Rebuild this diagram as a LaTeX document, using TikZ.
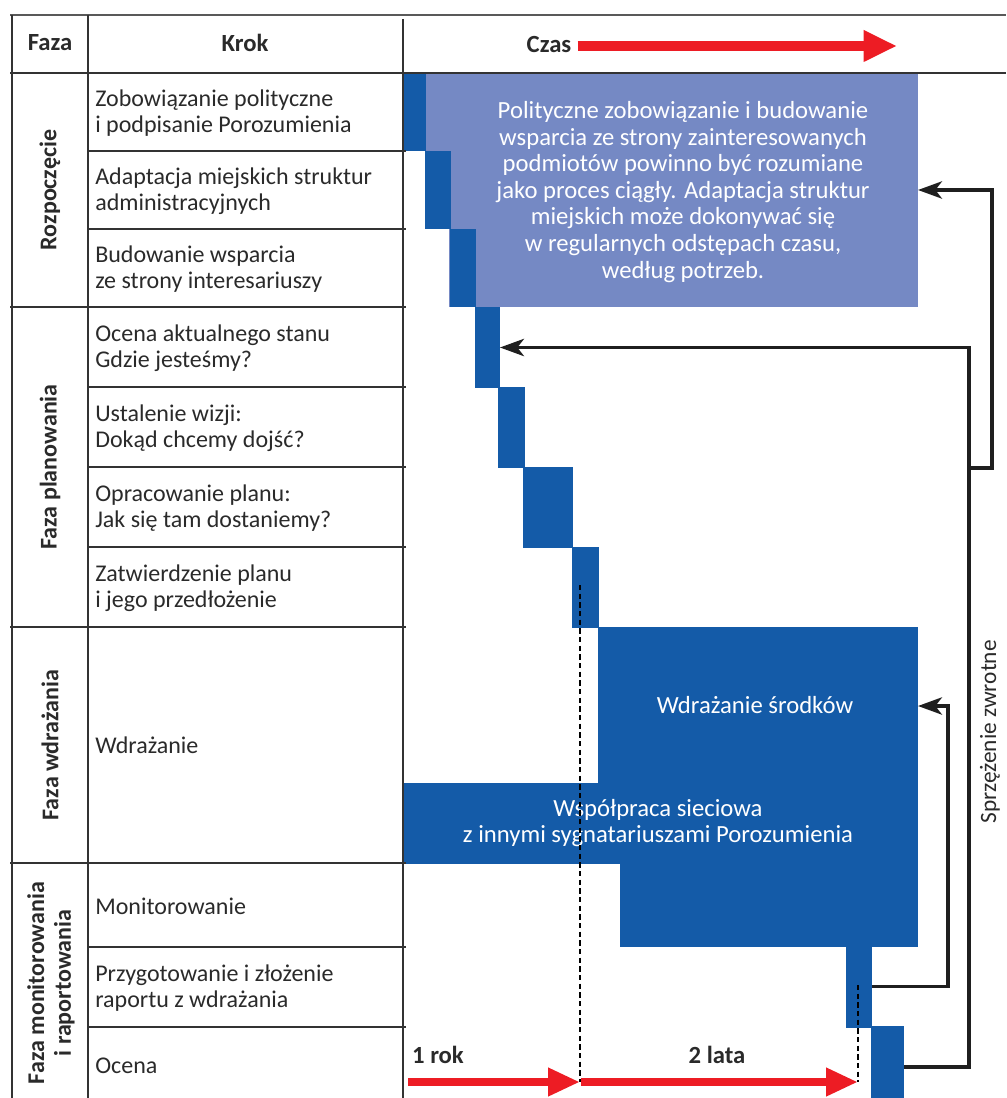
\documentclass[tikz,border=0pt]{standalone}
\usepackage{fontspec}
\setmainfont{Carlito}
\usetikzlibrary{arrows.meta,fit}
\definecolor{dblue}{HTML}{145BA8}
\definecolor{lblue}{HTML}{7589C4}
\definecolor{redarr}{HTML}{ED1C24}
\definecolor{txt}{HTML}{2A2A2A}
\definecolor{tline}{HTML}{333333}
\begin{document}
\begin{tikzpicture}[x=0.75pt,y=-0.75pt,
  grid/.style={draw=tline,line width=1.5pt},
  topline/.style={draw=black!65,line width=2pt},
  bar/.style={fill=dblue,draw=none,inner sep=0pt,outer sep=0pt},
  lbar/.style={fill=lblue,draw=none,inner sep=0pt,outer sep=0pt},
  steptxt/.style={anchor=west,align=left,text=txt,inner sep=0pt,font=\fontsize{18}{19.5}\selectfont},
  headtxt/.style={text=txt,inner sep=0pt,font=\bfseries\fontsize{18.5}{20}\selectfont},
  phasetxt/.style={rotate=90,align=center,text=txt,inner sep=0pt,font=\bfseries\fontsize{18}{20}\selectfont},
  wtxt/.style={text=white,align=center,inner sep=0pt,font=\fontsize{18.5}{19.9}\selectfont},
  fb/.style={draw=black!88,line width=2.4pt,-{Stealth[length=18pt,width=13pt,inset=5pt]}},
  redarrow/.style={draw=redarr,line width=6pt,-{Triangle[length=24pt,width=20pt]}},
  guide/.style={draw=black,line width=0.9pt,dash pattern=on 4pt off 2.5pt}
]
\useasboundingbox (0,0) rectangle (1006,1098);

% ---- bars ----
\node[lbar,fit={(449,73)(918,307)}] (light) {};
\node[lbar,fit={(425,73)(450,229)}] (lightstep) {};
\node[bar,fit={(403,73)(425.5,151)}] (b1) {};
\node[bar,fit={(425,151)(450.5,229)}] (b2) {};
\node[bar,fit={(450,229)(475.5,307)}] (b3) {};
\node[bar,fit={(475,307)(500,388)}] (b4) {};
\node[bar,fit={(498,387)(525,468)}] (b5) {};
\node[bar,fit={(523,467)(573,548)}] (b6) {};
\node[bar,fit={(572,547)(599,628)}] (b7) {};
\node[bar,fit={(598,627)(918,785)}] (wdr) {};
\node[bar,fit={(403,783)(918,864)}] (wsp) {};
\node[bar,fit={(620,862)(918,947)}] (mon) {};
\node[bar,fit={(846,946)(872,1027.5)}] (prz) {};
\node[bar,fit={(871,1026)(904,1108)}] (oce) {};

% ---- texts in bars ----
\node[wtxt] (lighttxt) at (683,192) {Polityczne zobowiązanie i budowanie\\wsparcia ze strony zainteresowanych\\podmiotów powinno być rozumiane\\jako proces ciągły. Adaptacja struktur\\miejskich może dokonywać się\\w regularnych odstępach czasu,\\według potrzeb.};
\node[wtxt] (wdrtxt) at (755,705) {Wdrażanie środków};
\node[wtxt] (wsptxt) at (658,823) {Współpraca sieciowa\\z innymi sygnatariuszami Porozumienia};

% ---- table grid ----
\draw[topline] (10,15) -- (1006,15);
\draw[grid] (10,73) -- (1006,73);
\draw[grid] (12,15) -- (12,1098);
\draw[grid] (88,15) -- (88,1098);
\draw[grid] (403,19) -- (403,1098);
\foreach \yy in {307,627,863} \draw[grid] (10,\yy) -- (406,\yy);
\foreach \yy in {151,229,387,467,547,947,1027} \draw[grid] (88,\yy) -- (406,\yy);

% ---- header ----
\node[headtxt] (hfaza) at (50,43) {Faza};
\node[headtxt] (hkrok) at (245,43) {Krok};
\node[headtxt] (hczas) at (549,45) {Czas};
\coordinate (czasend) at (897,46);
\draw[redarrow,line width=7.5pt,-{Triangle[length=25pt,width=22pt]}] (hczas.east |- czasend) ++(6,0) -- (czasend);

% ---- phases ----
\node[phasetxt] (ph1) at (50,190) {Rozpoczęcie};
\node[phasetxt] (ph2) at (50,467) {Faza planowania};
\node[phasetxt] (ph3) at (50,745) {Faza wdrażania};
\node[phasetxt] (ph4) at (51,983) {Faza monitorowania\\i raportowania};

% ---- steps ----
\node[steptxt] (s1) at (95,113) {Zobowiązanie polityczne\\i podpisanie Porozumienia};
\node[steptxt] (s2) at (95,191) {Adaptacja miejskich struktur\\administracyjnych};
\node[steptxt] (s3) at (95,269) {Budowanie wsparcia\\ze strony interesariuszy};
\node[steptxt] (s4) at (95,348) {Ocena aktualnego stanu\\Gdzie jesteśmy?};
\node[steptxt] (s5) at (95,428) {Ustalenie wizji:\\Dokąd chcemy dojść?};
\node[steptxt] (s6) at (95,508) {Opracowanie planu:\\Jak się tam dostaniemy?};
\node[steptxt] (s7) at (95,588) {Zatwierdzenie planu\\i jego przedłożenie};
\node[steptxt] (s8) at (95,745) {Wdrażanie};
\node[steptxt] (s9) at (95,906) {Monitorowanie};
\node[steptxt] (s10) at (95,988) {Przygotowanie i złożenie\\raportu z wdrażania};
\node[steptxt] (s11) at (95,1066) {Ocena};

% ---- time guides ----
\coordinate (g1top) at (580,585);
\coordinate (g1bot) at (580,1082);
\coordinate (g2top) at (858,985);
\coordinate (g2bot) at (858,1082);
\coordinate (r1start) at (408,1082);
\draw[guide] (g1top) -- (g1bot);
\draw[guide] (g2top) -- (g2bot);
\draw[redarrow] (r1start) -- (g1bot);
\draw[redarrow] ([xshift=1pt]g1bot) -- (g2bot);
\node[headtxt] (rok1) at (438,1055) {1 rok};
\node[headtxt] (lata2) at (717,1055) {2 lata};

% ---- feedback ----
\coordinate (mv) at (969,0);
\coordinate (wv) at (948,0);
\coordinate (rv) at (992,0);
\coordinate (junc) at (969,468);
\draw[fb] (oce.east) -- (oce.east -| mv) -- (mv |- b4.east) -- (b4.east);
\draw[fb] (junc) -- (junc -| rv) -- (rv |- light.east) -- (light.east);
\draw[fb] (prz.east) -- (prz.east -| wv) -- (wv |- wdr.east) -- (wdr.east);
\node[rotate=90,text=txt,inner sep=0pt,font=\fontsize{17.5}{19}\selectfont] (sprz) at (990,732) {Sprzężenie zwrotne};
\end{tikzpicture}
\end{document}
